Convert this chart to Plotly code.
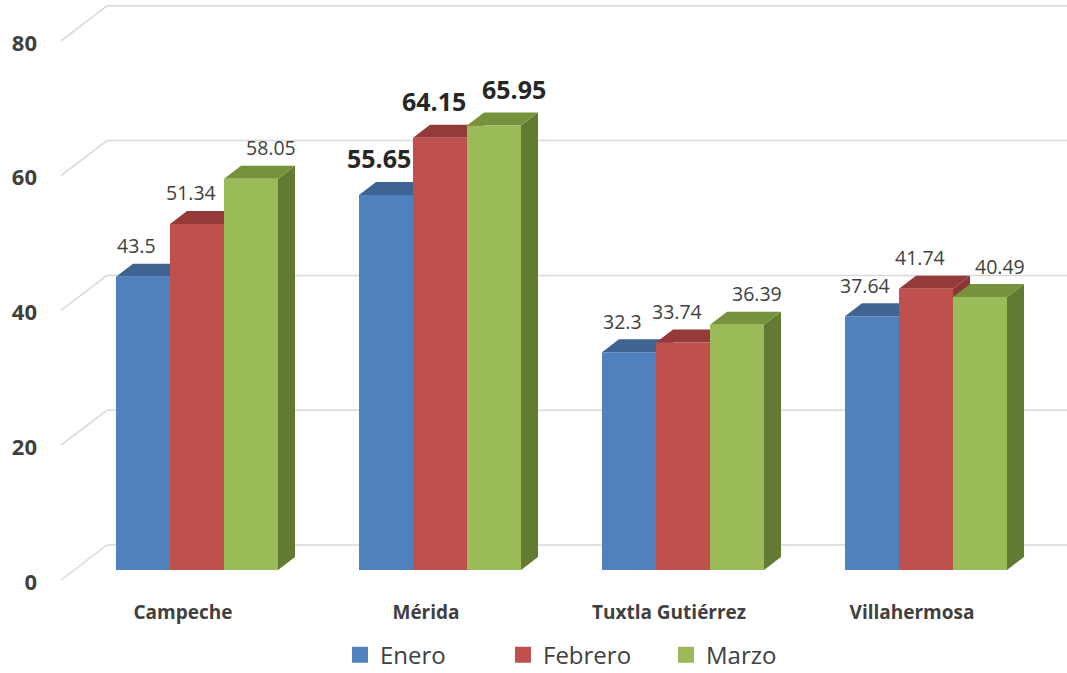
import plotly.graph_objects as go

# ---- data ----
cities = ["Campeche", "Mérida", "Tuxtla Gutiérrez", "Villahermosa"]
series_names = ["Enero", "Febrero", "Marzo"]
enero = [43.5, 55.65, 32.3, 37.64]
febrero = [51.34, 64.15, 33.74, 41.74]
marzo = [58.05, 65.95, 36.39, 40.49]
y_ticks = [0, 20, 40, 60, 80]
highlight_city = "Mérida"

values = [enero, febrero, marzo]

# ---- style ----
front_colors = ["#4F81BD", "#C0504D", "#9BBB59"]
top_colors = ["#3D6493", "#943A38", "#76923C"]
side_colors = ["#385D8A", "#8B3634", "#637A32"]
label_xshift = [-7, -6, 20]

W, H = 1067, 673
ml, mr, mt, mb = 60, 0, 0, 78
plot_w = W - ml - mr
plot_h = H - mt - mb
px_per_x = 243.0          # pixels per category step
px_per_y = 6.74           # pixels per value unit
zero_px = 570.0           # pixel row of the value 0 on the front plane
group_center_px = 197.0   # pixel column of first group centre

x_min = (ml - group_center_px) / px_per_x
x_max = (W - mr - group_center_px) / px_per_x
y_min = -(mt + plot_h - zero_px) / px_per_y
y_max = (zero_px - mt) / px_per_y

bar_w = 2.0 / 9.0
offsets = [-bar_w, 0.0, bar_w]
dx = 17.0 / px_per_x      # depth offset (x)
dy = 13.0 / px_per_y      # depth offset (y)
wall_dy = 25.0 / px_per_y
wall_x = (107.0 - group_center_px) / px_per_x
floor_front_x = (61.0 - group_center_px) / px_per_x
floor_front_dy = -10.0 / px_per_y
tick_dy = -12.0 / px_per_y

fig = go.Figure()
shapes = []
grid_col = "#D9D9D9"

# back wall gridlines + side wall diagonals
for v in y_ticks:
    shapes.append(dict(type="line", xref="x", yref="y", layer="below",
                       x0=wall_x, x1=x_max, y0=v + wall_dy, y1=v + wall_dy,
                       line=dict(color=grid_col, width=1.5)))
    shapes.append(dict(type="line", xref="x", yref="y", layer="below",
                       x0=floor_front_x, x1=wall_x, y0=v + floor_front_dy, y1=v + wall_dy,
                       line=dict(color=grid_col, width=1.5)))

annotations = []
for s, (name, vals) in enumerate(zip(series_names, values)):
    xs = [i + offsets[s] for i in range(len(cities))]
    fig.add_trace(go.Bar(x=xs, y=vals, width=bar_w, base=0,
                         marker=dict(color=front_colors[s], line=dict(width=0)),
                         name=name, showlegend=False, hoverinfo="skip"))
    for i, v in enumerate(vals):
        x0 = xs[i] - bar_w / 2
        x1 = xs[i] + bar_w / 2
        # side face
        shapes.append(dict(type="path", xref="x", yref="y", layer="below",
                           path=f"M {x1},0 L {x1},{v} L {x1+dx},{v+dy} L {x1+dx},{dy} Z",
                           fillcolor=side_colors[s], line=dict(width=0)))
        # top face
        shapes.append(dict(type="path", xref="x", yref="y", layer="below",
                           path=f"M {x0},{v} L {x1},{v} L {x1+dx},{v+dy} L {x0+dx},{v+dy} Z",
                           fillcolor=top_colors[s], line=dict(width=0)))
        bold = cities[i] == highlight_city
        annotations.append(dict(
            x=xs[i], y=v, xref="x", yref="y", text=f"{v:g}", showarrow=False,
            xanchor="center", yanchor="middle",
            xshift=label_xshift[s], yshift=37 if bold else 31,
            font=dict(family="Open Sans", size=25 if bold else 19.5,
                      color="#262626" if bold else "#404040",
                      weight="bold" if bold else "normal")))

# legend entries
for s, name in enumerate(series_names):
    fig.add_trace(go.Scatter(x=[None], y=[None], mode="markers", name=name,
                             marker=dict(symbol="square", size=17, color=front_colors[s])))

fig.update_layout(
    width=W, height=H,
    margin=dict(l=ml, r=mr, t=mt, b=mb, autoexpand=False),
    paper_bgcolor="white", plot_bgcolor="white",
    barmode="overlay",
    shapes=shapes,
    annotations=annotations,
    showlegend=True,
    legend=dict(orientation="h", x=(340 - ml) / plot_w, xanchor="left", y=-0.101, yanchor="middle",
                font=dict(family="Open Sans", size=24, color="#404040"),
                entrywidth=118, itemsizing="trace"),
    xaxis=dict(range=[x_min, x_max], showgrid=False, zeroline=False, showline=False,
               tickmode="array", tickvals=[i - 14.0 / px_per_x for i in range(len(cities))],
               ticktext=cities, ticks="", ticklabelstandoff=4,
               tickfont=dict(family="Open Sans", size=19, color="#404040", weight="bold")),
    yaxis=dict(range=[y_min, y_max], showgrid=False, zeroline=False, showline=False,
               tickmode="array", tickvals=[v + tick_dy for v in y_ticks],
               ticktext=[str(v) for v in y_ticks], ticks="", ticklabelstandoff=22,
               tickfont=dict(family="Open Sans", size=22, color="#404040", weight="bold")),
)

fig.write_html("out.html", config={"displayModeBar": False},
               post_script="document.body.style.margin='0px';")
